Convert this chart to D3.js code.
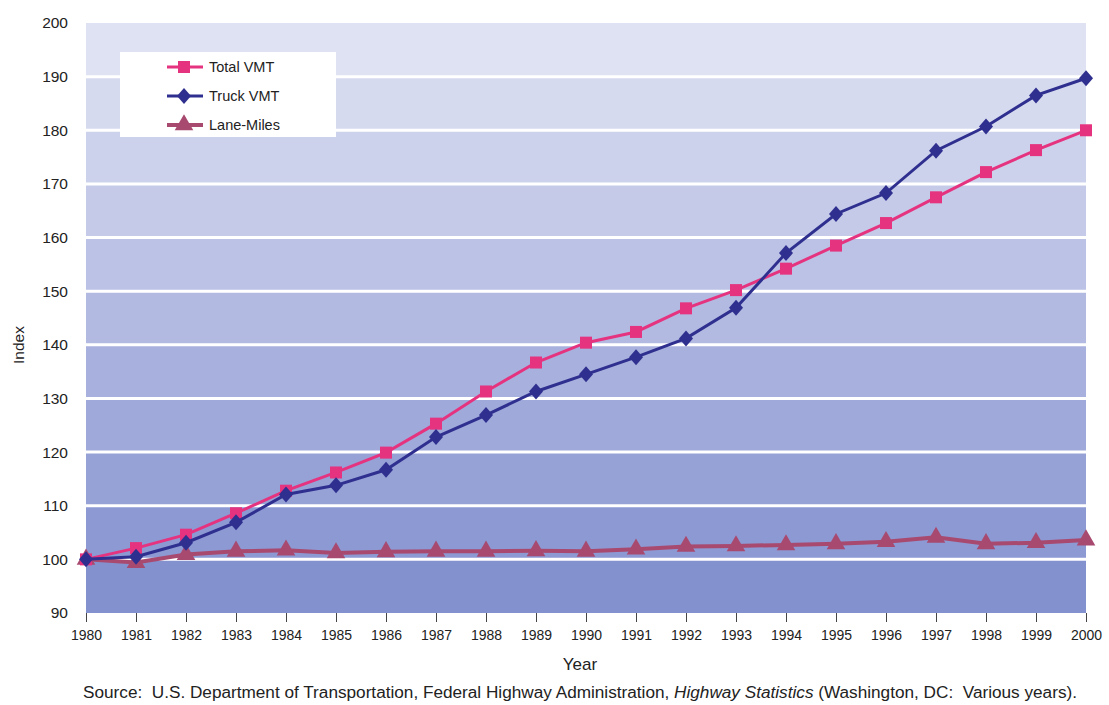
<!DOCTYPE html>
<html>
<head>
<meta charset="utf-8">
<script src="https://cdn.jsdelivr.net/npm/d3@7"></script>
<style>
  html, body { margin: 0; padding: 0; background: #fff; }
  svg { display: block; font-family: "Liberation Sans", Arial, sans-serif; }
</style>
</head>
<body>
<svg id="chart" width="1109" height="705"></svg>
<script>
const years = [1980,1981,1982,1983,1984,1985,1986,1987,1988,1989,1990,1991,1992,1993,1994,1995,1996,1997,1998,1999,2000];
const totalVMT = [100,102.1,104.6,108.6,112.8,116.2,119.9,125.3,131.3,136.7,140.4,142.4,146.8,150.2,154.2,158.5,162.7,167.5,172.2,176.3,180];
const truckVMT = [100,100.5,103.1,106.9,112.1,113.8,116.7,122.8,126.9,131.3,134.5,137.7,141.2,146.9,157.1,164.4,168.3,176.2,180.7,186.5,189.7];
const laneMiles = [100,99.4,100.9,101.5,101.7,101.2,101.4,101.5,101.5,101.6,101.5,101.9,102.4,102.5,102.7,102.9,103.3,104.1,102.9,103.1,103.6];
const yTicks = [90,100,110,120,130,140,150,160,170,180,190,200];
const seriesNames = ["Total VMT","Truck VMT","Lane-Miles"];

const svg = d3.select("#chart");
const x = d3.scaleLinear().domain([1980, 2000]).range([86, 1086]);
const y = d3.scaleLinear().domain([90, 200]).range([613, 23]);

// background bands
const bandColor = d3.interpolateRgb("#dfe2f3", "#8491cf");
const bands = d3.range(90, 200, 10);
svg.append("g").selectAll("rect").data(bands).join("rect")
  .attr("x", x(1980)).attr("width", x(2000) - x(1980))
  .attr("y", d => y(d + 10)).attr("height", d => y(d) - y(d + 10))
  .attr("fill", d => bandColor((200 - (d + 10)) / 100));

// gridlines
svg.append("g").selectAll("line").data(yTicks.filter(t => t > 90 && t < 200)).join("line")
  .attr("x1", x(1980)).attr("x2", x(2000))
  .attr("y1", d => y(d)).attr("y2", d => y(d))
  .attr("stroke", "#ffffff").attr("stroke-width", 3);

// y axis
const yAxis = d3.axisLeft(y).tickValues(yTicks).tickSize(0).tickPadding(18);
const gy = svg.append("g").attr("transform", `translate(${x(1980)},0)`).call(yAxis);
gy.select(".domain").remove();
gy.selectAll("text").attr("font-size", 15.5).attr("fill", "#222").attr("font-family", "Liberation Sans, Arial, sans-serif");

// x axis
const xAxis = d3.axisBottom(x).tickValues(years).tickFormat(d3.format("d")).tickSize(9).tickPadding(8);
const gx = svg.append("g").attr("transform", `translate(0,${y(90)})`).call(xAxis);
gx.select(".domain").remove();
gx.selectAll("line").attr("stroke", "#444").attr("stroke-width", 1);
gx.selectAll("text").attr("font-size", 14).attr("fill", "#222").attr("font-family", "Liberation Sans, Arial, sans-serif");

// axis titles
svg.append("text").attr("x", 580).attr("y", 670).attr("text-anchor", "middle")
  .attr("font-size", 17).attr("fill", "#222").text("Year");
svg.append("text").attr("transform", "translate(24,345) rotate(-90)").attr("text-anchor", "middle")
  .attr("font-size", 15.5).attr("fill", "#222").text("Index");

// source
const src = svg.append("text").attr("x", 83).attr("y", 698)
  .attr("font-size", 16).attr("fill", "#222")
  .attr("textLength", 994).attr("lengthAdjust", "spacingAndGlyphs")
  .style("white-space", "pre");
src.append("tspan").text("Source:  U.S. Department of Transportation, Federal Highway Administration, ");
src.append("tspan").attr("font-style", "italic").text("Highway Statistics");
src.append("tspan").text(" (Washington, DC:  Various years).");

// lines
const colors = {total: "#e5337f", truck: "#2f2f8f", lane: "#a84a70"};
const line = d3.line().x((d, i) => x(years[i])).y(d => y(d));

function sym(type, size) { return d3.symbol().type(type).size(size)(); }
const diamond = "M0,-8L7,0L0,8L-7,0Z";

// Lane-miles
svg.append("path").datum(laneMiles).attr("d", line).attr("fill", "none")
  .attr("stroke", colors.lane).attr("stroke-width", 4);
svg.append("g").selectAll("path").data(laneMiles).join("path")
  .attr("transform", (d, i) => `translate(${x(years[i])},${y(d)})`)
  .attr("d", sym(d3.symbolTriangle, 150)).attr("fill", colors.lane);

// Total VMT
svg.append("path").datum(totalVMT).attr("d", line).attr("fill", "none")
  .attr("stroke", colors.total).attr("stroke-width", 3);
svg.append("g").selectAll("rect").data(totalVMT).join("rect")
  .attr("x", (d, i) => x(years[i]) - 6).attr("y", d => y(d) - 6)
  .attr("width", 12).attr("height", 12).attr("fill", colors.total);

// Truck VMT
svg.append("path").datum(truckVMT).attr("d", line).attr("fill", "none")
  .attr("stroke", colors.truck).attr("stroke-width", 3);
svg.append("g").selectAll("path").data(truckVMT).join("path")
  .attr("transform", (d, i) => `translate(${x(years[i])},${y(d)})`)
  .attr("d", diamond).attr("fill", colors.truck);

// legend
const lg = svg.append("g");
lg.append("rect").attr("x", 120).attr("y", 52).attr("width", 216).attr("height", 85).attr("fill", "#fff");
const legendItems = [
  {name: seriesNames[0], color: colors.total, kind: "square"},
  {name: seriesNames[1], color: colors.truck, kind: "diamond"},
  {name: seriesNames[2], color: colors.lane, kind: "triangle"}
];
legendItems.forEach((it, i) => {
  const cy = 67 + i * 29;
  lg.append("line").attr("x1", 167).attr("x2", 203).attr("y1", cy).attr("y2", cy)
    .attr("stroke", it.color).attr("stroke-width", it.kind === "triangle" ? 4 : 3);
  if (it.kind === "square") {
    lg.append("rect").attr("x", 178).attr("y", cy - 6).attr("width", 12).attr("height", 12).attr("fill", it.color);
  } else if (it.kind === "diamond") {
    lg.append("path").attr("transform", `translate(184,${cy})`).attr("d", diamond).attr("fill", it.color);
  } else {
    lg.append("path").attr("transform", `translate(184,${cy})`).attr("d", sym(d3.symbolTriangle, 150)).attr("fill", it.color);
  }
  lg.append("text").attr("x", 209).attr("y", cy + 5).attr("font-size", 14.5).attr("fill", "#222").text(it.name);
});
</script>
</body>
</html>
